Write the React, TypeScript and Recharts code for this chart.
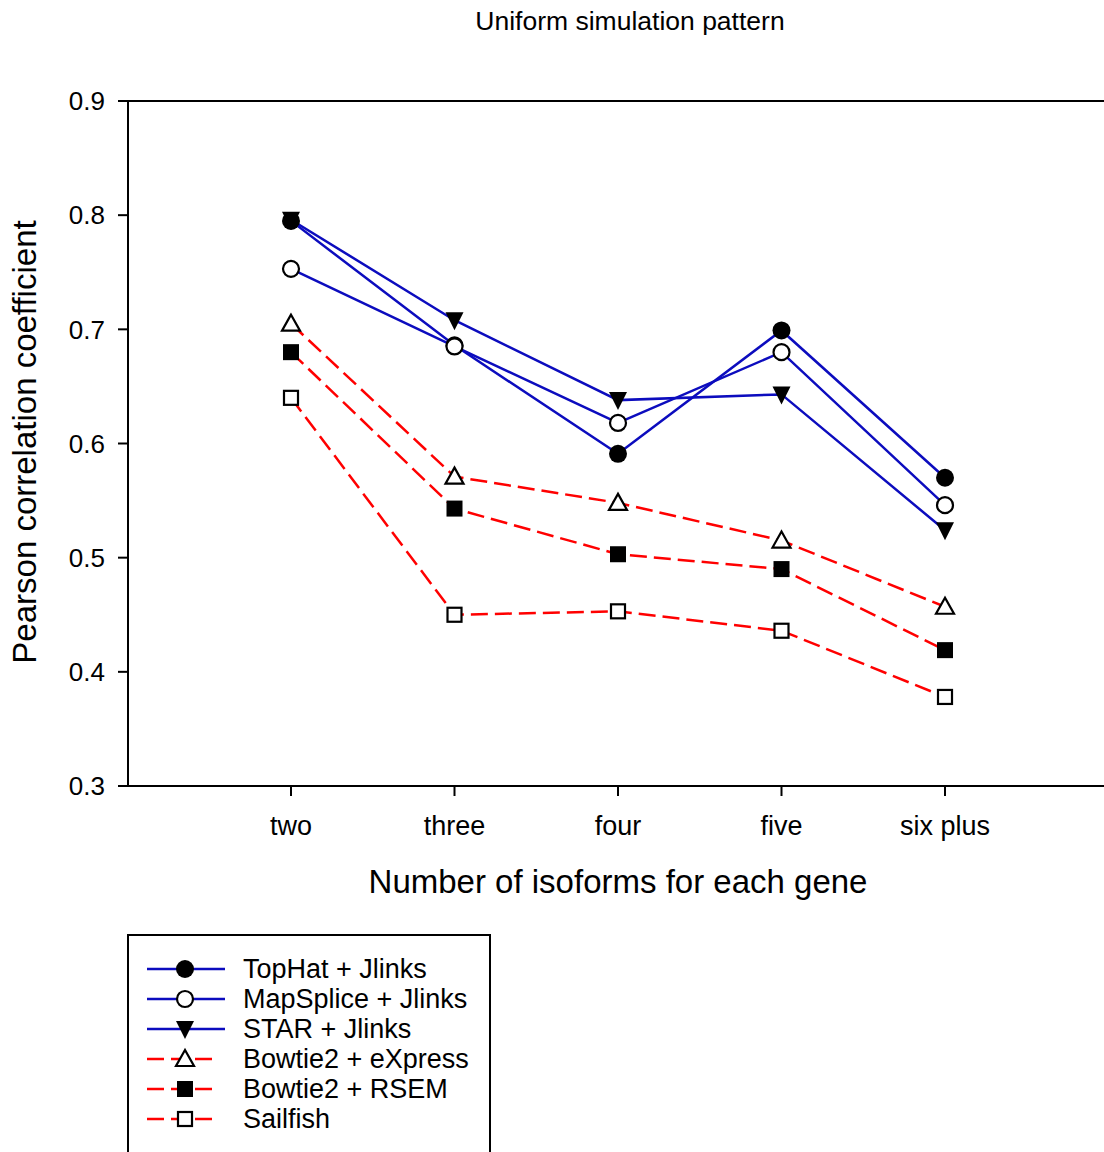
import React from "react";
import { LineChart, Line, XAxis, YAxis, ReferenceLine } from "recharts";

const categories = ["two", "three", "four", "five", "six plus"];
const yTicks = [0.3, 0.4, 0.5, 0.6, 0.7, 0.8, 0.9];

const tophat = [0.795, 0.686, 0.591, 0.699, 0.57];
const mapsplice = [0.753, 0.685, 0.618, 0.68, 0.546];
const star = [0.796, 0.708, 0.638, 0.643, 0.524];
const express = [0.705, 0.571, 0.548, 0.515, 0.457];
const rsem = [0.68, 0.543, 0.503, 0.49, 0.419];
const sailfish = [0.64, 0.45, 0.453, 0.436, 0.378];

const BLUE = "#0C0CBE";
const RED = "#FF0000";
const FONT = "'Liberation Sans', Arial, sans-serif";

type Shape =
  | "circleFilled"
  | "circleOpen"
  | "triDown"
  | "triUp"
  | "squareFilled"
  | "squareOpen";

const series: {
  key: string;
  name: string;
  color: string;
  dash?: string;
  shape: Shape;
}[] = [
  { key: "tophat", name: "TopHat + Jlinks", color: BLUE, shape: "circleFilled" },
  { key: "mapsplice", name: "MapSplice + Jlinks", color: BLUE, shape: "circleOpen" },
  { key: "star", name: "STAR + Jlinks", color: BLUE, shape: "triDown" },
  { key: "express", name: "Bowtie2 + eXpress", color: RED, dash: "17 7", shape: "triUp" },
  { key: "rsem", name: "Bowtie2 + RSEM", color: RED, dash: "17 7", shape: "squareFilled" },
  { key: "sailfish", name: "Sailfish", color: RED, dash: "17 7", shape: "squareOpen" },
];

const data = categories.map((name, i) => ({
  name,
  tophat: tophat[i],
  mapsplice: mapsplice[i],
  star: star[i],
  express: express[i],
  rsem: rsem[i],
  sailfish: sailfish[i],
}));

// marker glyphs, shared by the plot and the legend
const Marker = ({ cx, cy, shape }: { cx: number; cy: number; shape: Shape }) => {
  switch (shape) {
    case "circleFilled":
      return <circle cx={cx} cy={cy} r={9} fill="#000" />;
    case "circleOpen":
      return <circle cx={cx} cy={cy} r={8} fill="#fff" stroke="#000" strokeWidth={2.2} />;
    case "triDown":
      return (
        <polygon
          points={`${cx - 9},${cy - 8} ${cx + 9},${cy - 8} ${cx},${cy + 10}`}
          fill="#000"
        />
      );
    case "triUp":
      return (
        <polygon
          points={`${cx},${cy - 9} ${cx - 9},${cy + 7} ${cx + 9},${cy + 7}`}
          fill="#fff"
          stroke="#000"
          strokeWidth={2.2}
        />
      );
    case "squareFilled":
      return <rect x={cx - 8} y={cy - 8} width={16} height={16} fill="#000" />;
    default:
      return (
        <rect x={cx - 7} y={cy - 7} width={14} height={14} fill="#fff" stroke="#000" strokeWidth={2.2} />
      );
  }
};

const LegendBox = () => (
  <svg
    width={364}
    height={240}
    style={{ position: "absolute", left: 127, top: 934 }}
  >
    <rect x={1} y={1} width={362} height={260} fill="#fff" stroke="#000" strokeWidth={2} />
    {series.map((s, i) => {
      const y = 35 + i * 30;
      return (
        <g key={s.key}>
          <line
            x1={20}
            x2={s.dash ? 90 : 98}
            y1={y}
            y2={y}
            stroke={s.color}
            strokeWidth={2.5}
            strokeDasharray={s.dash}
          />
          <Marker cx={58} cy={y} shape={s.shape} />
          <text
            x={116}
            y={y}
            dy="0.35em"
            fontFamily={FONT}
            fontSize={27}
            fill="#000"
          >
            {s.name}
          </text>
        </g>
      );
    })}
  </svg>
);

const App: React.FC = () => {
  return (
    <div
      style={{
        position: "absolute",
        left: 0,
        top: 0,
        width: 1104,
        height: 1152,
        overflow: "hidden",
        background: "#fff",
        fontFamily: FONT,
      }}
    >
      <div
        style={{
          position: "absolute",
          top: 5,
          left: 430,
          width: 400,
          textAlign: "center",
          fontSize: 26.5,
          lineHeight: "32px",
          color: "#000",
        }}
      >
        Uniform simulation pattern
      </div>

      <LineChart
        width={1200}
        height={1152}
        data={data}
        margin={{ top: 101, right: 91, bottom: 306, left: 0 }}
      >
        <XAxis
          dataKey="name"
          padding={{ left: 163, right: 164 }}
          height={60}
          stroke="#000"
          strokeWidth={2}
          tickSize={10}
          tickMargin={20}
          tick={{ fill: "#000", fontSize: 27, fontFamily: FONT }}
        />
        <YAxis
          type="number"
          domain={[0.3, 0.9]}
          ticks={yTicks}
          width={128}
          stroke="#000"
          strokeWidth={2}
          tickSize={10}
          tickMargin={13}
          tickFormatter={(v: number) => v.toFixed(1)}
          tick={{ fill: "#000", fontSize: 26, fontFamily: FONT }}
        />
        <ReferenceLine y={0.9} stroke="#000" strokeWidth={2} />
        {series.map((s) => (
          <Line
            key={s.key}
            dataKey={s.key}
            name={s.name}
            stroke={s.color}
            strokeWidth={2.5}
            strokeDasharray={s.dash}
            isAnimationActive={false}
            activeDot={false}
            dot={(p: any) => (
              <Marker key={`${s.key}-${p.index}`} cx={p.cx} cy={p.cy} shape={s.shape} />
            )}
          />
        ))}
      </LineChart>

      <div
        style={{
          position: "absolute",
          top: 862,
          left: 318,
          width: 600,
          textAlign: "center",
          fontSize: 33,
          lineHeight: "40px",
          color: "#000",
        }}
      >
        Number of isoforms for each gene
      </div>

      <div
        style={{
          position: "absolute",
          left: 25 - 300,
          top: 442 - 20,
          width: 600,
          height: 40,
          textAlign: "center",
          fontSize: 33,
          lineHeight: "40px",
          color: "#000",
          transform: "rotate(-90deg)",
        }}
      >
        Pearson correlation coefficient
      </div>

      <LegendBox />
    </div>
  );
};

export default App;
